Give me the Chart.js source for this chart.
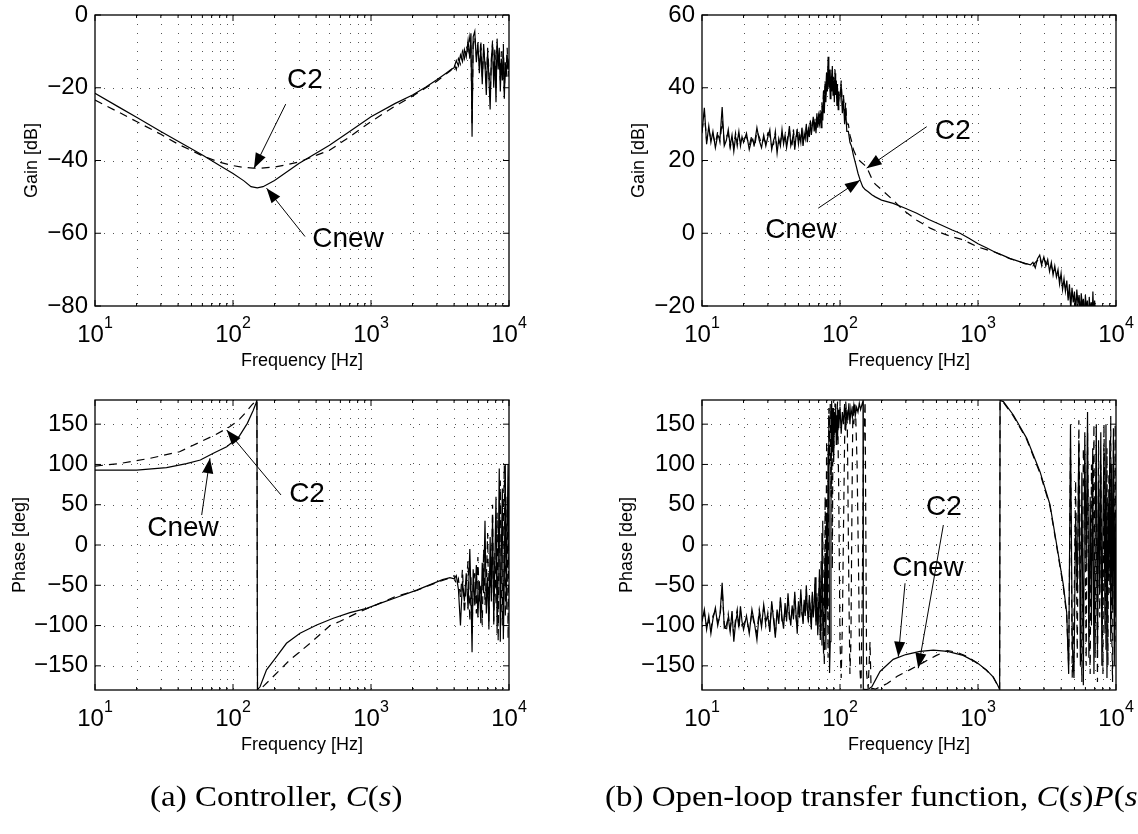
<!DOCTYPE html>
<html>
<head>
<meta charset="utf-8">
<script src="https://cdn.jsdelivr.net/npm/chart.js@4.4.1/dist/chart.umd.min.js"></script>
<style>
html,body{margin:0;padding:0;background:#fff;}
body{position:relative;width:1138px;height:834px;overflow:hidden;}
.panel{position:absolute;left:0;top:0;width:1138px;height:834px;}
.cap{position:absolute;font-family:"Liberation Serif","Times New Roman",serif;font-size:30px;line-height:30px;color:#000;white-space:nowrap;transform-origin:0 50%;transform:scaleX(1.1);}
.cap i{font-style:italic;}
</style>
</head>
<body>
<div class="panel"><canvas id="gainA"></canvas></div>
<div class="panel"><canvas id="gainB"></canvas></div>
<div class="panel"><canvas id="phaseA"></canvas></div>
<div class="panel"><canvas id="phaseB"></canvas></div>
<div class="cap" id="capA" style="left:150px;top:781px;">(a) Controller, <i>C</i>(<i>s</i>)</div>
<div class="cap" id="capB" style="left:605px;top:781px;">(b) Open-loop transfer function, <i>C</i>(<i>s</i>)<i>P</i>(<i>s</i>)</div>
<script>
// ---------------- axis ticks ----------------
const freqTicks = [10,20,30,40,50,60,70,80,90,100,200,300,400,500,600,700,800,900,1000,2000,3000,4000,5000,6000,7000,8000,9000,10000];
const decadeTicks = [10,100,1000,10000];
const decadeExp = ['1','2','3','4'];
const gainCTicks = [-80,-60,-40,-20,0];
const gainOLTicks = [-20,0,20,40,60];
const phaseTicks = [-150,-100,-50,0,50,100,150];

// ---------------- (a) controller gain [dB] ----------------
const ctrlNoiseF = [4000,4150,4300,4450,4600,4750,4900,5050,5200,5300,5400,5500,5650,5800,5950,6100,6250,6400,6550,6700,6850,7000,7150,7300,7450,7600,7750,7900,8050,8200,8350,8500,8650,8800,8950,9100,9250,9400,9550,9700,9850,10000];
const ctrlGainCnewF = [10,15,20,30,40,60,80,100,120,135,150,165,200,300,500,700,1000,1500,2000,2500,3000,3500,3800];
const ctrlGainCnew = [-21.5,-25.4,-28.1,-32,-34.7,-38.5,-41.4,-43.6,-45.6,-47.2,-47.5,-47.2,-45.5,-40.8,-35.8,-32,-28,-24.3,-22,-19.8,-17.8,-16,-15];
const ctrlGainCnewNoise = [-14.5,-12.5,-14,-11,-12.8,-9.5,-11.5,-7,-12,-5,-33.5,-6,-4.5,-13,-7.5,-16,-9,-19,-8,-14,-22,-10,-17,-26,-12,-8,-20,-11,-24,-6.5,-15,-9,-21,-12,-18,-10,-23,-13,-17,-11,-15,-13];
const ctrlGainC2F = [10,15,20,30,40,60,80,100,120,140,160,200,250,300,400,500,700,1000,1500,2000,2500,3000,3500,3800];
const ctrlGainC2 = [-23.4,-26.8,-29.3,-32.8,-35.5,-38.7,-40.5,-41.4,-41.9,-42.1,-42.1,-41.8,-41.1,-40.4,-38.6,-37.2,-33.5,-29.3,-25,-22.3,-20,-18.2,-16.2,-15.2];
const ctrlGainC2Noise = [-13.5,-15,-12,-13.5,-10,-12,-8.5,-10,-6,-9,-30,-8,-6,-11,-9,-14,-7,-17,-10,-12,-19,-9,-15,-22,-13,-7,-18,-9,-20,-8,-13,-11,-18,-10,-16,-8,-21,-14,-15,-9,-17,-12];

// ---------------- (a) controller phase [deg] ----------------
const ctrlPhaseCnewF = [10,20,33,46,58,72,90,110,127,140,146,149,150.5,157,175,207,244,306,404,533,704,930,1162,1600,2143,2800,3300,3736];
const ctrlPhaseCnew = [93,93,96,101,105.5,114,122,134,151,167,175,179.5,-179.5,-176,-155,-138.6,-122,-109.6,-99.3,-91,-84,-78.6,-72.4,-64,-56,-48,-43,-40.5];
const ctrlPhaseCnewNoise = [-42,-38,-55,-100,-45,-70,-35,-80,-5,-60,-133,-30,-75,-25,-90,-45,-97,-22,-60,30,-85,-40,-105,10,-70,35,-95,-20,60,-110,-30,95,-120,-10,70,-117,-40,100,-80,20,100,-30];
const ctrlPhaseC2F = [10,15,25,41,58,75,95,110,125,137,146,149,150.5,160,185,258,362,505,593,800,1100,1500,2143,2800,3300,3736];
const ctrlPhaseC2 = [98,101,107.6,115.8,128,137,147,155,165.5,174,178.5,179.8,-179.8,-178,-167.5,-142.7,-122,-100,-95,-84,-74,-64,-56.5,-48.5,-44,-41];
const ctrlPhaseC2Noise = [-38,-50,-42,-65,-30,-85,-48,-20,-95,-40,-110,-50,-35,-85,-15,-70,-50,-100,-5,-75,-45,15,-95,-30,-60,50,-100,-10,-75,40,-120,0,80,-60,-100,30,99,-90,-20,60,-117,85];

// ---------------- (b) open-loop gain [dB] ----------------
const olLowF = [10,10.4,10.8,11.2,11.6,12,12.5,13,13.5,14,14.5,15,15.5,16,16.5,17,17.5,18,18.5,19,19.5,
  20,21,22,23,24,25,26,27,28,29,30,31,32,33,34,35,36,37,38,39,40,41,42,43,44,45,46,47,48,49,50,51,52,53,54,55,56,57,58,59,60,61,62,63,64,65,66,67,68,69,70];
const olGainCnewLow = [27.5,34.5,24.5,29.5,25,28,23.5,27,26,34.7,24,25.5,28.5,24,27,22.5,26.5,25,28,24,26.5,
  25,27.5,23,26,24.5,29,25.5,23.5,27,24,26.5,28.5,23,25.5,27,22,26,24,28.5,24.5,27,23.5,26,29.5,24,25.5,27.5,23,26.5,28,24.5,27,25,29,24,27.5,26,30,25,28.5,26.5,31,27,29.5,32,28,30.5,27.5,33,29,31.5];
const olGainCnewF = [71,72,73,74,75,76,77,78,79,80,81,82,83,84,85,86,87,88,89,90,91,92,93,94,95,96,97,98,
  100,102,104,106,108,110,112,115,118,121,125,130,135,140,146,152,160,170,180,200,
  243,300,360,440,531,650,741,860,1000,1150,1300,1500,1700,2000,2200];
const olGainCnew = [30,33,29,35,31,38,33,41,36,44,39,48.5,40,45,37,43,39,46,38,42,36,44,38,41,35,40,34,38,
  38,41,33,37,30,34,28,28,25,24,21.5,19,16.5,14.6,12.8,12,11.4,10.6,10,9.1,
  8.2,6.8,5.5,3.8,2.4,0.9,0,-1.4,-2.9,-4,-5,-6,-6.9,-7.8,-8.3];
const olHighF = [2400,2500,2600,2700,2800,2900,3000,3100,3200,3300,3400,3500,3600,3700,3800,3900,4000,4100,4200,4300,4400,4500,4600,4700,4800,4900,5000,5100,5200,5300,5400,5500,5600,5700,5800,5900,6000,6100,6200,6300,6400,6500,6600,6700,6800,6900,7000,7200,7500,8000,9000,10000];
const olGainCnewHigh = [-8.7,-8,-9.5,-7,-6,-8.5,-6.5,-9,-7.2,-10.5,-8,-11.5,-9,-12,-10,-14,-11,-15.5,-12.5,-16,-13,-18.5,-14,-21,-15,-19,-16,-22,-15.5,-19.5,-17,-23,-16.5,-20,-18,-24,-17,-21,-18.5,-25,-17.5,-22,-19,-26,-16,-23,-18.5,-25,-27,-29,-31,-33];
const olGainC2Low = [28,33,25.5,28.5,26,27,24.5,28,25,31,25,26.5,27.5,23.5,26,24,27.5,24,27,25,25.5,
  26,26.5,24,27,23.5,28,26.5,24.5,26,25,27.5,27,24,24.5,28,23,25,25,27.5,25.5,26,24.5,27,28.5,25,24.5,28.5,24,25.5,29,25.5,26,26,28,25,26.5,27,29,26,29.5,27.5,30,28,30.5,31,29,31.5,28.5,32,30,32.5];
const olGainC2F = [71,72,73,74,75,76,77,78,79,80,81,82,83,84,85,86,87,88,89,90,91,92,93,94,95,96,97,98,
  100,102,104,106,108,110,112,115,118,121,125,130,135,140,150,156,170,180,200,
  243,286,360,450,531,650,750,850,1000,1150,1300,1500,1700,2000,2200];
const olGainC2 = [31,34,30,36,33,40,35,42,38,45,41,46,42,44,39,45,41,44,40,43,38,45,40,42,37,41,36,39,
  37,42,35,38,32,36,30,30,27,25.5,23,21.5,20.5,19.8,18.8,18.2,15,13.5,12,
  9.1,6.4,3.6,1.4,0.2,-1,-1.6,-2.5,-3.8,-4.5,-5.1,-6.1,-7,-7.8,-8.4];
const olGainC2High = [-8.5,-9,-8,-7.5,-6.5,-9,-7,-8,-8.5,-9.5,-9,-10.5,-10,-11,-11.5,-12.5,-12,-14,-13.5,-15,-14.5,-17,-15.5,-19,-16.5,-18,-17.5,-20,-17,-21,-18.5,-21.5,-18,-22,-19,-22.5,-18.5,-23,-20,-24,-19,-23.5,-20.5,-25,-18,-24,-20,-26,-28,-30,-32,-34];

// ---------------- (b) open-loop phase [deg] ----------------
const olPhaseCnewLow = [-95,-80,-105,-88,-110,-92,-78,-100,-86,-47,-103,-100,-90,-108,-82,-120,-97,-85,-100,-76,-95,
  -105,-88,-110,-80,-97,-118,-84,-102,-74,-95,-88,-108,-70,-93,-115,-80,-98,-65,-90,-104,-72,-95,-60,-86,-100,-75,-92,-58,-85,-110,-70,-90,-55,-82,-98,-68,-88,-50,-80,-96,-62,-85,-105,-58,-90,-75,-40,-100,-65,-112,-78];
const olPhaseCnewF = [71,72,73,74,75,76,77,78,79,80,81,82,83,84,85,86,87,88,89,90,91,92,93,94,95,96,97,98,
  100,102,104,106,108,110,112,114,116,118,120,123,126,129,132,135,138,141,144,146.8,147.5,155,162,170,
  195,243,300,380,475,600,780,980,1150,1290,1390,1435,1445,1527,1804,2254,2814,3324,3719,4153,4393];
const olPhaseCnew = [-30,-118,-45,15,-90,-135,-60,-10,-130,40,-80,120,161,-159,-120,40,179,120,170,103,165,140,175,125,160,130,168,145,
  172,138,165,150,175,142,168,155,176,150,170,158,174,160,171,165,176,168,174,179,-179,-179.5,-178.5,-176,
  -157,-142,-136,-132,-130.5,-132,-137,-146,-155,-164,-174,-179.5,179.5,178,161.4,132.4,91,50,0,-49.6,-84];
const olPhaseHighF = [4540,4680,4820,4960,5100,5240,5380,5520,5660,5800,5940,6080,6220,6360,6500,6640,6780,6920,7060,7200,7340,7480,7620,7760,7900,8040,8180,8320,8460,8600,8740,8880,9020,9160,9300,9440,9580,9720,9860,10000];
const olPhaseCnewHigh = [-160,150,-120,-165,40,-60,130,-150,90,-174,140,-30,165,-140,60,-100,120,-160,20,150,-130,80,-60,140,-150,30,120,-110,150,-165,60,-40,130,-120,100,-80,145,-150,40,-90];
const olPhaseC2Low = [-90,-85,-100,-95,-105,-88,-82,-96,-90,-55,-98,-108,-86,-104,-88,-112,-92,-80,-105,-82,-100,
  -98,-92,-106,-84,-100,-110,-80,-98,-78,-100,-84,-102,-75,-88,-110,-86,-92,-70,-95,-98,-78,-90,-66,-92,-95,-80,-88,-62,-90,-104,-75,-85,-60,-86,-92,-72,-84,-55,-84,-92,-66,-80,-98,-62,-86,-70,-48,-96,-60,-105,-70];
const olPhaseC2F = [71,72,73,74,75,76,77,78,79,80,81,82,83,84,85,86,87,88,89,90,92,94,96,98,
  100,102,104,106,108,110,113,116,118,120,122,124,126,128,130,133,136,139,142,145,148,152,156,160,165,168,172,180,
  220,260,320,400,500,600,700,850,980,1150,1290,1390,1435,1445,1527,1804,2254,2814,3324,3719,4153,4393];
const olPhaseC2 = [-40,-110,-20,-125,30,-100,-150,60,-60,130,-20,-140,170,100,175,60,150,-30,170,120,176,140,178,60,
  -120,-165,-100,20,130,178,150,-60,-160,-120,40,175,150,178,160,100,-20,-150,-178,-60,120,178,-160,-178,-120,-179,-178,-179,
  -172,-163,-155,-146,-137,-131,-133,-139,-146.5,-155.5,-164,-174.5,-179.5,179.5,177,160,131,89,48,-2,-52,-88];
const olPhaseC2High = [-150,120,-165,-90,80,-140,155,-40,-170,120,60,-150,140,-80,-160,100,-20,150,-140,60,-170,130,-90,100,-40,-160,150,20,-130,120,-150,90,-60,160,-100,-170,130,-30,150,-120];

// ---------------- helpers ----------------
const FONT = '"Liberation Sans", Arial, Helvetica, sans-serif';
function pairs(name, fs, vs) {
  if (fs.length !== vs.length) throw new Error(name + ' length mismatch ' + fs.length + ' vs ' + vs.length);
  return fs.map((f, i) => ({x: f, y: vs[i]}));
}
function drawArrow(ctx, x1, y1, x2, y2) {
  ctx.beginPath(); ctx.moveTo(x1, y1); ctx.lineTo(x2, y2); ctx.stroke();
  const a = Math.atan2(y2 - y1, x2 - x1), L = 15, W = 5.5;
  const bx = x2 - L * Math.cos(a), by = y2 - L * Math.sin(a);
  ctx.beginPath(); ctx.moveTo(x2, y2);
  ctx.lineTo(bx + W * Math.sin(a), by - W * Math.cos(a));
  ctx.lineTo(bx - W * Math.sin(a), by + W * Math.cos(a));
  ctx.closePath(); ctx.fill();
}
function fmt(v) { return v < 0 ? '\u2212' + Math.abs(v) : String(v); }

const bodePlugin = {
  id: 'bode',
  beforeDatasetsDraw(chart, args, o) {
    const ctx = chart.ctx, {left, right, top, bottom} = chart.chartArea;
    const xs = chart.scales.x, ys = chart.scales.y;
    ctx.save();
    ctx.strokeStyle = '#555'; ctx.lineWidth = 1; ctx.setLineDash([1, 8]);
    freqTicks.forEach(v => {
      const px = Math.round(xs.getPixelForValue(v)) + 0.5;
      if (px < left + 2 || px > right - 2) return;
      ctx.beginPath(); ctx.moveTo(px, top); ctx.lineTo(px, bottom); ctx.stroke();
    });
    o.yTicks.forEach(v => {
      const py = Math.round(ys.getPixelForValue(v)) + 0.5;
      if (py < top + 2 || py > bottom - 2) return;
      ctx.beginPath(); ctx.moveTo(left, py); ctx.lineTo(right, py); ctx.stroke();
    });
    ctx.restore();
  },
  afterDatasetsDraw(chart, args, o) {
    const ctx = chart.ctx, {left, right, top, bottom} = chart.chartArea;
    const xs = chart.scales.x, ys = chart.scales.y;
    ctx.save();
    ctx.strokeStyle = '#000'; ctx.fillStyle = '#000'; ctx.lineWidth = 1.3; ctx.setLineDash([]);
    ctx.strokeRect(left, top, right - left, bottom - top);
    ctx.lineWidth = 1;
    freqTicks.forEach(v => {
      const px = xs.getPixelForValue(v);
      const len = decadeTicks.includes(v) ? 6 : 3;
      ctx.beginPath(); ctx.moveTo(px, bottom); ctx.lineTo(px, bottom - len);
      ctx.moveTo(px, top); ctx.lineTo(px, top + len); ctx.stroke();
    });
    o.yTicks.forEach(v => {
      const py = ys.getPixelForValue(v);
      ctx.beginPath(); ctx.moveTo(left, py); ctx.lineTo(left + 6, py);
      ctx.moveTo(right, py); ctx.lineTo(right - 6, py); ctx.stroke();
    });
    ctx.font = '24px ' + FONT; ctx.textAlign = 'right'; ctx.textBaseline = 'middle';
    o.yTicks.forEach(v => ctx.fillText(fmt(v), left - 7, ys.getPixelForValue(v)));
    ctx.textAlign = 'left'; ctx.textBaseline = 'alphabetic';
    decadeTicks.forEach((v, i) => {
      const px = xs.getPixelForValue(v);
      ctx.font = '24px ' + FONT; const w1 = ctx.measureText('10').width;
      ctx.font = '16px ' + FONT; const w2 = ctx.measureText(decadeExp[i]).width;
      const x0 = px - (w1 + w2) / 2;
      ctx.font = '24px ' + FONT; ctx.fillText('10', x0, bottom + 36);
      ctx.font = '16px ' + FONT; ctx.fillText(decadeExp[i], x0 + w1, bottom + 22);
    });
    ctx.font = '18px ' + FONT; ctx.textAlign = 'center'; ctx.textBaseline = 'middle';
    ctx.fillText('Frequency [Hz]', (left + right) / 2, bottom + 55);
    ctx.save(); ctx.translate(left - o.yTitleOffset, (top + bottom) / 2); ctx.rotate(-Math.PI / 2);
    ctx.fillText(o.yTitle, 0, 0); ctx.restore();
    ctx.font = '28px ' + FONT; ctx.textAlign = 'center'; ctx.textBaseline = 'middle';
    o.notes.forEach(n => ctx.fillText(n.text, xs.getPixelForValue(n.f), ys.getPixelForValue(n.v)));
    ctx.lineWidth = 1;
    o.arrows.forEach(a => drawArrow(ctx, xs.getPixelForValue(a.f1), ys.getPixelForValue(a.v1),
                                         xs.getPixelForValue(a.f2), ys.getPixelForValue(a.v2)));
    ctx.restore();
  }
};

function makeBode(id, area, yMin, yMax, yTicks, yTitle, yTitleOffset, c2Data, newData, notes, arrows) {
  return new Chart(document.getElementById(id), {
    type: 'line',
    data: {datasets: [
      {label: 'C2', data: c2Data, borderColor: '#000', borderWidth: 1.2, borderDash: [8, 6], pointRadius: 0, tension: 0, fill: false},
      {label: 'Cnew', data: newData, borderColor: '#000', borderWidth: 1.2, pointRadius: 0, tension: 0, fill: false}
    ]},
    options: {
      responsive: true, maintainAspectRatio: false, animation: false, devicePixelRatio: 1, events: [],
      layout: {padding: {left: area[0], top: area[1], right: 1138 - area[2], bottom: 834 - area[3]}},
      plugins: {legend: {display: false}, tooltip: {enabled: false},
        bode: {yTicks, yTitle, yTitleOffset, notes, arrows}},
      scales: {
        x: {type: 'logarithmic', min: 10, max: 10000, display: false},
        y: {type: 'linear', min: yMin, max: yMax, display: false}
      }
    },
    plugins: [bodePlugin]
  });
}

makeBode('gainA', [95, 15, 509, 306], -80, 0, gainCTicks, 'Gain [dB]', 63,
  pairs('gainA C2', ctrlGainC2F.concat(ctrlNoiseF), ctrlGainC2.concat(ctrlGainC2Noise)),
  pairs('gainA Cnew', ctrlGainCnewF.concat(ctrlNoiseF), ctrlGainCnew.concat(ctrlGainCnewNoise)),
  [{text: 'C2', f: 332.5, v: -17.9}, {text: 'Cnew', f: 681, v: -61.6}],
  [{f1: 241, v1: -24.5, f2: 142, v2: -42.1}, {f1: 332.5, v1: -60.9, f2: 175, v2: -47.6}]);

makeBode('gainB', [702, 15, 1116, 306], -20, 60, gainOLTicks, 'Gain [dB]', 63,
  pairs('gainB C2', olLowF.concat(olGainC2F, olHighF), olGainC2Low.concat(olGainC2, olGainC2High)),
  pairs('gainB Cnew', olLowF.concat(olGainCnewF, olHighF), olGainCnewLow.concat(olGainCnew, olGainCnewHigh)),
  [{text: 'C2', f: 659, v: 28.1}, {text: 'Cnew', f: 52.2, v: 0.9}],
  [{f1: 425, v1: 29.3, f2: 156, v2: 17.9}, {f1: 69.6, v1: 6.9, f2: 139.6, v2: 14.6}]);

makeBode('phaseA', [95, 400, 509, 690], -180, 180, phaseTicks, 'Phase [deg]', 75,
  pairs('phaseA C2', ctrlPhaseC2F.concat(ctrlNoiseF), ctrlPhaseC2.concat(ctrlPhaseC2Noise)),
  pairs('phaseA Cnew', ctrlPhaseCnewF.concat(ctrlNoiseF), ctrlPhaseCnew.concat(ctrlPhaseCnewNoise)),
  [{text: 'Cnew', f: 43.4, v: 21.1}, {text: 'C2', f: 344, v: 63.3}],
  [{f1: 59.3, v1: 37.2, f2: 68.1, v2: 107.6}, {f1: 222.7, v1: 62.1, f2: 90, v2: 142.8}]);

makeBode('phaseB', [702, 400, 1116, 690], -180, 180, phaseTicks, 'Phase [deg]', 75,
  pairs('phaseB C2', olLowF.concat(olPhaseC2F, olPhaseHighF), olPhaseC2Low.concat(olPhaseC2, olPhaseC2High)),
  pairs('phaseB Cnew', olLowF.concat(olPhaseCnewF, olPhaseHighF), olPhaseCnewLow.concat(olPhaseCnew, olPhaseCnewHigh)),
  [{text: 'C2', f: 567, v: 47.2}, {text: 'Cnew', f: 434, v: -28.5}],
  [{f1: 561, v1: 24.8, f2: 369, v2: -153}, {f1: 296, v1: -47.5, f2: 264.5, v2: -138.7}]);
</script>
</body>
</html>
